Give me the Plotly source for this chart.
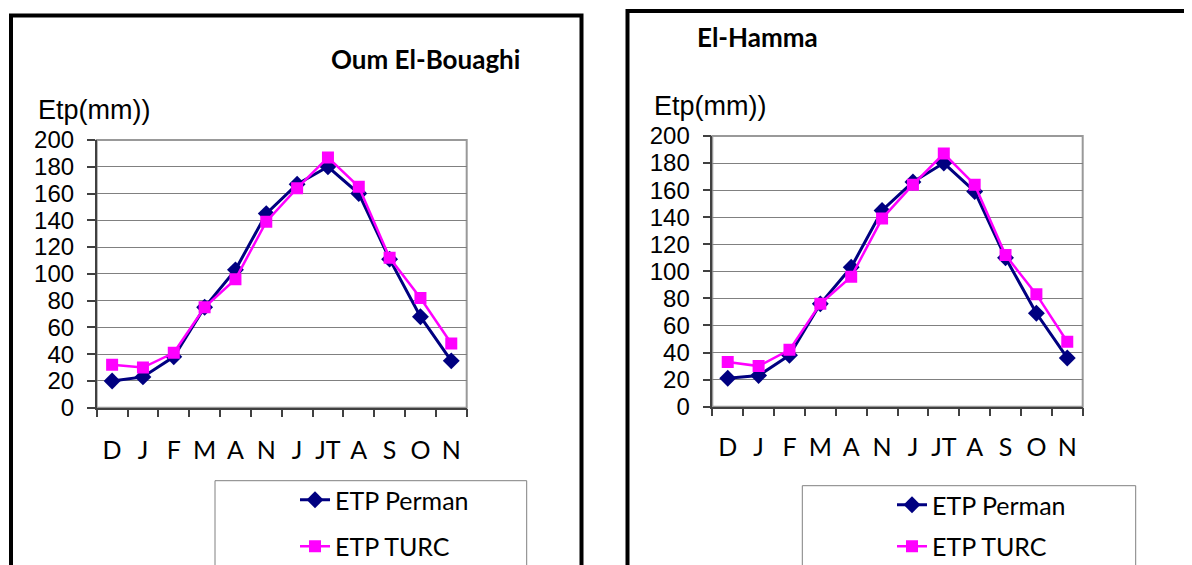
import plotly.graph_objects as go

# ---- data ----
months = ["D", "J", "F", "M", "A", "N", "J", "JT", "A", "S", "O", "N"]
oum_perman = [20, 23, 38, 75, 103, 145, 167, 180, 160, 111, 68, 35]
oum_turc = [32, 30, 41, 75, 96, 139, 164, 187, 165, 112, 82, 48]
ham_perman = [21, 23, 38, 76, 103, 145, 166, 180, 159, 110, 69, 36]
ham_turc = [33, 30, 42, 76, 96, 139, 164, 187, 164, 112, 83, 48]
y_ticks = [0, 20, 40, 60, 80, 100, 120, 140, 160, 180, 200]
series_names = ["ETP Perman", "ETP TURC"]
panel_titles = ["Oum El-Bouaghi", "El-Hamma"]
y_title = "Etp(mm))"

# page has an 8px body margin: figure is offset by 8px
OFF = 8
W, H = 1192 - OFF, 565 - OFF
def px(x):
    return (x - OFF) / W
def py(y):
    return 1 - (y - OFF) / H

NAVY = "#000080"
MAG = "#FF00FF"
HUM = "Lato, Liberation Sans, Arial, sans-serif"
ARIAL = "Liberation Sans, Arial, sans-serif"

xs = list(range(len(months)))
fig = go.Figure()

panels = [
    dict(xa="x", ya="y", perman=oum_perman, turc=oum_turc, legend="legend"),
    dict(xa="x2", ya="y2", perman=ham_perman, turc=ham_turc, legend="legend2"),
]
for p in panels:
    fig.add_trace(go.Scatter(
        x=xs, y=p["perman"], mode="lines+markers", name=series_names[0],
        line=dict(color=NAVY, width=3), marker=dict(symbol="diamond", size=13, color=NAVY),
        xaxis=p["xa"], yaxis=p["ya"], legend=p["legend"], legendgroup="a" + p["legend"]))
    fig.add_trace(go.Scatter(
        x=xs, y=p["turc"], mode="lines+markers", name=series_names[1],
        line=dict(color=MAG, width=2.5), marker=dict(symbol="square", size=12, color=MAG),
        xaxis=p["xa"], yaxis=p["ya"], legend=p["legend"], legendgroup="b" + p["legend"]))

def xaxis_cfg(x0, x1, y_anchor, standoff):
    return dict(
        domain=[px(x0), px(x1)], anchor=y_anchor, range=[-0.5, len(months) - 0.5],
        tickmode="array", tickvals=xs, ticktext=months, ticks="",
        tickfont=dict(family=HUM, size=25, color="#000"),
        ticklabelstandoff=standoff,
        showgrid=False, zeroline=False, showline=True, linecolor="#404040", linewidth=1.5,
        minor=dict(tickvals=[i - 0.5 for i in range(len(months) + 1)], ticks="outside",
                   ticklen=8, tickcolor="#404040", tickwidth=1.5, showgrid=False),
        fixedrange=True)

def yaxis_cfg(y_bottom, y_top, x_anchor):
    return dict(
        domain=[py(y_bottom), py(y_top)], anchor=x_anchor, range=[0, 200],
        tickmode="array", tickvals=y_ticks, ticks="outside", ticklen=8,
        tickcolor="#404040", tickwidth=1.5,
        tickfont=dict(family=ARIAL, size=24, color="#000"), ticklabelstandoff=8,
        showgrid=True, gridcolor="#808080", gridwidth=1, zeroline=False,
        showline=True, linecolor="#404040", linewidth=1.5, fixedrange=True)

shapes = []
# outer frames
shapes.append(dict(type="rect", xref="paper", yref="paper", x0=px(11), x1=px(581.5),
                   y0=py(15.5), y1=py(620), line=dict(color="#000", width=4)))
shapes.append(dict(type="rect", xref="paper", yref="paper", x0=px(627.5), x1=px(1230),
                   y0=py(11), y1=py(620), line=dict(color="#000", width=4)))
# legend boxes
shapes.append(dict(type="rect", xref="paper", yref="paper", x0=px(215), x1=px(526.7),
                   y0=py(480.7), y1=py(620), line=dict(color="#808080", width=1)))
shapes.append(dict(type="rect", xref="paper", yref="paper", x0=px(802.3), x1=px(1135.7),
                   y0=py(485.7), y1=py(620), line=dict(color="#808080", width=1)))
# plot frames (top/right gray border)
for xa, ya in (("x", "y"), ("x2", "y2")):
    shapes.append(dict(type="rect", xref=xa + " domain", yref=ya + " domain", x0=0, x1=1,
                       y0=0, y1=1, line=dict(color="#999999", width=2), layer="below"))

annotations = [
    dict(text="<b>" + panel_titles[0] + "</b>", x=px(521.7), y=py(59), xref="paper", yref="paper",
         xanchor="right", yanchor="middle", showarrow=False,
         font=dict(family=HUM, size=26, color="#000")),
    dict(text="<b>" + panel_titles[1] + "</b>", x=px(695), y=py(37.5), xref="paper", yref="paper",
         xanchor="left", yanchor="middle", showarrow=False,
         font=dict(family=HUM, size=26, color="#000")),
    dict(text=y_title, x=px(36), y=py(110), xref="paper", yref="paper",
         xanchor="left", yanchor="middle", showarrow=False,
         font=dict(family=ARIAL, size=27, color="#000")),
    dict(text=y_title, x=px(652), y=py(106), xref="paper", yref="paper",
         xanchor="left", yanchor="middle", showarrow=False,
         font=dict(family=ARIAL, size=27, color="#000")),
]

legend_common = dict(
    xanchor="left", yanchor="top", bgcolor="rgba(0,0,0,0)", borderwidth=0,
    font=dict(family=HUM, size=25, color="#000"), traceorder="grouped",
    itemclick=False, itemdoubleclick=False)

fig.update_layout(
    width=W, height=H, margin=dict(l=0, r=0, t=0, b=0, autoexpand=False),
    paper_bgcolor="white", plot_bgcolor="white",
    xaxis=xaxis_cfg(96.7, 466.7, "y", 20), yaxis=yaxis_cfg(407.7, 140, "x"),
    xaxis2=xaxis_cfg(712.3, 1082.7, "y2", 18), yaxis2=yaxis_cfg(406.7, 136, "x2"),
    legend=dict(x=px(295), y=py(477), tracegroupgap=11, **legend_common),
    legend2=dict(x=px(892), y=py(482), tracegroupgap=6, **legend_common),
    shapes=shapes, annotations=annotations, showlegend=True,
)

fig.write_html("out.html")
